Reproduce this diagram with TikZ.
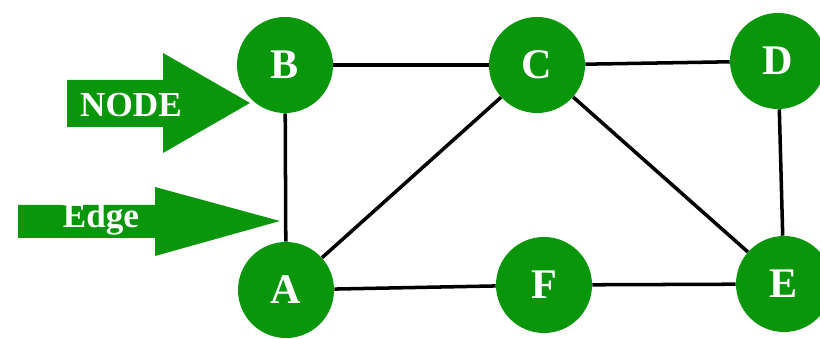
\documentclass[tikz,border=0pt]{standalone}
\usepackage{fontspec}
\setmainfont{Liberation Serif}
\usepackage{tikz}
\definecolor{vertexcolor}{HTML}{0A960A}

\begin{document}
\begin{tikzpicture}[x=0.025cm, y=-0.025cm]
    \tikzset{%
        vertex/.style={circle, fill=vertexcolor, minimum size=2.4cm, inner sep=0pt,
                text=white, font=\bfseries\fontsize{30pt}{30pt}\selectfont},
        link/.style={line width=2.5pt, black},
        pointer/.style={fill=vertexcolor},
        pointerlabel/.style={anchor=base, text=white, inner sep=0pt,
                font=\bfseries\fontsize{25pt}{25pt}\selectfont}
    }
    \useasboundingbox (0, 0) rectangle (820, 339);

    % vertices
    \node (B) at (285, 65) [vertex] {B};
    \node (C) at (537, 65) [vertex] {C};
    \node (D) at (778, 61) [vertex] {D};
    \node (A) at (286, 290) [vertex] {A};
    \node (F) at (544, 285) [vertex] {F};
    \node (E) at (784, 284) [vertex] {E};

    % edges
    \draw [link] (B) -- (C);
    \draw [link] (C) -- (D);
    \draw [link] (B) -- (A);
    \draw [link] (A) -- (C);
    \draw [link] (C) -- (E);
    \draw [link] (D) -- (E);
    \draw [link] (A) -- (F);
    \draw [link] (F) -- (E);

    % pointers
    \fill [pointer] (67, 80) -- (163, 80) -- (163, 53) -- (250, 103)
        -- (163, 153) -- (163, 127) -- (67, 127) -- cycle;
    \node (nodelabel) at (131, 117) [pointerlabel] {NODE};

    \fill [pointer] (18, 205) -- (155, 205) -- (155, 187) -- (280, 221)
        -- (155, 256) -- (155, 238) -- (18, 238) -- cycle;
    \node (edgelabel) at (101, 228) [pointerlabel] {Edge};
\end{tikzpicture}
\end{document}
